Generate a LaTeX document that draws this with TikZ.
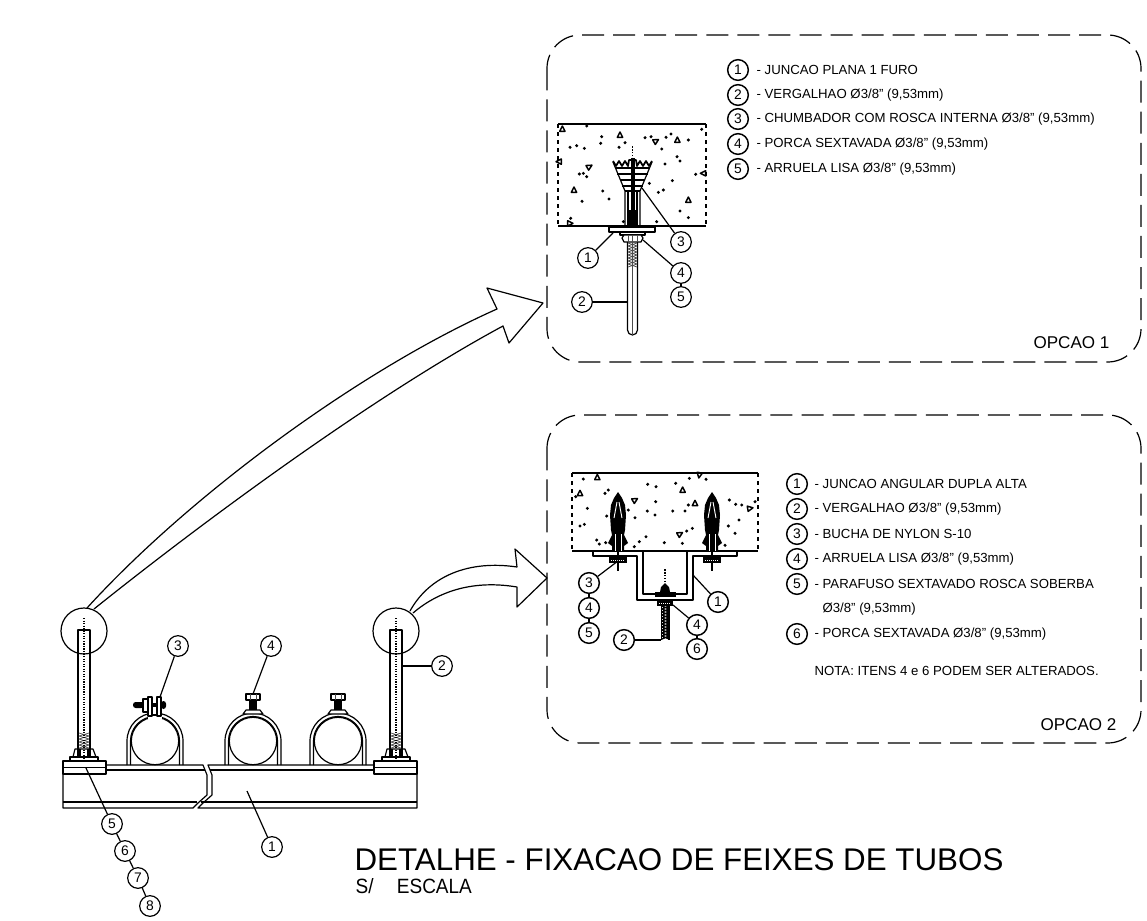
\documentclass[tikz,border=0pt]{standalone}
\usepackage{fontspec}
\setmainfont{Liberation Sans}
\newfontfamily\scalefont[FakeStretch=0.92]{Liberation Sans}
\tikzset{
  ln/.style={line width=0.9pt,line join=round},
  thinln/.style={line width=0.5pt,black!70},
  heavy/.style={line width=1.6pt},
  bubble/.style={circle,draw,line width=0.9pt,inner sep=0pt,minimum size=15.5pt,font=\fontsize{10.4pt}{12pt}\selectfont},
  bubblekey/.style={bubble,line width=1.1pt},
  legend/.style={anchor=west,inner sep=0pt,font=\fontsize{9.9pt}{12pt}\selectfont},
  optbox/.style={line width=0.9pt,rounded corners=25pt,dash pattern=on 16.5pt off 6.8pt},
  optlabel/.style={anchor=east,inner sep=0pt,font=\fontsize{12.8pt}{15pt}\selectfont}
}
\begin{document}
\begin{tikzpicture}[x=0.75pt,y=-0.75pt,ln]
  \useasboundingbox (0,0) rectangle (1147,921);

  % dashed frames
  \draw[optbox] (547,35) rectangle (1141,362);
  \draw[optbox] (547,415) rectangle (1141,743);
  \node[optlabel] (opt_1) at (1110,343) {OPCAO 1};
  \node[optlabel] (opt_2) at (1117,725) {OPCAO 2};

  % channel
  \draw (63,761) -- (63,808) -- (193,808) -- (198,803) -- (207,795) -- (207,775) -- (203,765) -- (106,765);
  \draw (63,802) -- (197,802);
  \draw (106,770) -- (205,770);
  \draw (417,761) -- (417,808) -- (198,808) -- (203,803) -- (212,795) -- (212,775) -- (208,765) -- (374,765);
  \draw (201,802) -- (417,802);
  \draw (210,770) -- (374,770);
  \foreach \px in {63,374} {
    \draw (\px,761) rectangle (\px+43,774);
    \draw (\px,767.5) -- (\px+43,767.5);
  }

  % studs
  \foreach \sx in {84,396} {
    \draw (\sx-6,757) -- (\sx-6,630) -- (\sx+6,630) -- (\sx+6,757);
    \foreach \ty in {733,736,...,746} \draw[thinln] (\sx-5,\ty) -- (\sx+5,\ty+3) (\sx+5,\ty) -- (\sx-5,\ty+3);
    \draw[line width=0.9pt,densely dotted] (\sx,618) -- (\sx,761);
    \draw (\sx-11,757) -- (\sx-9,749) -- (\sx+9,749) -- (\sx+12,757);
    \draw (\sx-4,749) -- (\sx-4,757) (\sx+4,749) -- (\sx+4,757);
    \draw (\sx-14,761) -- (\sx-14,757) -- (\sx+14,757) -- (\sx+14,761);
    \draw (\sx,631) circle (23);
  }

  % pipes and clamps
  \foreach \cx in {155,253,338} {
    \draw (\cx,741) circle (23.7);
    \draw (\cx-28,765) -- (\cx-28,741) arc[start angle=180,end angle=360,radius=28] -- (\cx+28,765);
    \draw (\cx-24.5,765) -- (\cx-24.5,741) arc[start angle=180,end angle=360,radius=24.5] -- (\cx+24.5,765);
  }
  \foreach \cx in {253,338} {
    \draw[fill=white] (\cx-10,714) -- (\cx-7,710) -- (\cx+7,710) -- (\cx+10,714) -- cycle;
    \fill (\cx-4,700) rectangle (\cx+4,710);
    \draw[fill=white] (\cx-7,694) rectangle (\cx+7,700);
    \draw[thinln] (\cx-3,694) -- (\cx-3,700) (\cx+3,694) -- (\cx+3,700);
  }
  \draw[fill=white,draw=white] (149,700) rectangle (161,719);
  \draw[fill=white] (148,697) rectangle (152,716);
  \draw[fill=white] (157,697) rectangle (161,716);
  \draw (152,715) -- (157,715);
  \fill[rounded corners=2pt] (133,702) rectangle (144,708);
  \draw[fill=white] (143,699) rectangle (148,712);
  \fill (152,703) rectangle (157,707);
  \fill[rounded corners=2pt] (161,701) rectangle (166,709);

  % callouts on the bundle
  \node[bubble] (n_3) at (178,646) {3};
  \node[bubble] (n_4) at (271,646) {4};
  \node[bubble] (n_2) at (442,666) {2};
  \node[bubble] (n_1) at (272,847) {1};
  \node[bubble] (n_5) at (112,824) {5};
  \node[bubble] (n_6) at (125,851) {6};
  \node[bubble] (n_7) at (138,878) {7};
  \node[bubble] (n_8) at (150,906) {8};
  \coordinate (to_3) at (160,697);
  \coordinate (to_4) at (253,694);
  \coordinate (to_2) at (402,666);
  \coordinate (to_1) at (247,791);
  \coordinate (to_5) at (86,768);
  \draw (n_3) -- (to_3);
  \draw (n_4) -- (to_4);
  \draw (n_2) -- (to_2);
  \draw (n_1) -- (to_1);
  \draw (to_5) -- (n_5) -- (n_6) -- (n_7) -- (n_8);

  % arrows
  \draw (87,608) .. controls (190,495) and (360,370) .. (497,309) -- (487,288) -- (543,303) -- (509,343) -- (503,326)
    .. controls (375,395) and (205,520) .. (94,609);
  \draw (410,611) .. controls (430,575) and (470,560) .. (517,567) -- (515,549) -- (547,578) -- (517,607) -- (517,587)
    .. controls (475,580) and (440,590) .. (413,613);

  % opcao 1, concrete
  \draw[heavy] (558,124) -- (706,124);
  \draw[line width=1.2pt] (558,226) -- (706,226);
  \draw[dashed] (558,124) -- (558,226) (706,124) -- (706,226);
  \begin{scope}[shift={(540,30)},x=0.25pt,y=-0.25pt]
    \foreach \a/\b in {185/320,140/288,90/352,110/347,133/355,182/340,237/352,255/338,315/323,333/320,378/322,393/312,445/330,365/357,411/380,420/393,375/402,467/433,397/452,328/460,355/487,370/480,188/483,207/507,126/514,118/432,130/430,140/440,420/543,445/563,350/575,250/575,92/565,485/298}
      \fill (\a,\b) circle (5);
    \foreach \a/\b/\r in {240/315/0,67/297/0,348/333/-60,412/330/0,148/410/-60,102/480/0,445/510/0,90/580/-90,490/430/90,57/395/90}
      \draw[line width=1.1pt,shift={(\a,\b)},rotate=\r] (-8,7) -- (8,7) -- (0,-9) -- cycle;
  \end{scope}

  % opcao 1, anchor
  \draw (613,162) -- (625,191) -- (625,226) (652,162) -- (640,191) -- (640,226);
  \draw[line width=1.3pt] (613,161) -- (616,166) -- (619,161) -- (622,166) -- (625,161) -- (628,166) -- (629,160) -- (636,160) -- (637,166) -- (640,161) -- (643,166) -- (646,161) -- (649,166) -- (652,161);
  \draw[line width=1.1pt] (615,168) -- (650,168) (617,174) -- (648,174) (620,180) -- (645,180) (622,186) -- (643,186);
  \draw (628,191) -- (628,226) (637,191) -- (637,226);
  \draw (625,191) -- (640,191);
  \draw[line width=1.2pt,densely dotted] (632.5,146) -- (632.5,158);
  \fill (630.5,158) rectangle (634.5,210);
  \fill (627,210) rectangle (637,226);
  \draw[fill=white] (609,227) rectangle (655,232);
  \draw[fill=white] (620,232) rectangle (645,235);
  \draw[fill=white] (624,235) -- (622,238) -- (624,242) -- (641,242) -- (643,238) -- (641,235) -- cycle;
  \draw[thinln] (628,235) -- (628,242) (632.5,235) -- (632.5,242) (637,235) -- (637,242);
  \draw (627.5,242) -- (627.5,330) arc[start angle=180,end angle=0,radius=5] -- (637.5,242);
  \draw[thinln] (632.5,242) -- (632.5,335);
  \foreach \ty in {243,246,...,264} \draw[thinln] (628,\ty) -- (637,\ty+3) (637,\ty) -- (628,\ty+3);
  \node[bubble] (a_3) at (681,242) {3};
  \node[bubble] (a_1) at (588,258) {1};
  \node[bubble] (a_4) at (681,273) {4};
  \node[bubble] (a_5) at (681,297) {5};
  \node[bubble] (a_2) at (582,302) {2};
  \coordinate (at_3) at (642,188);
  \coordinate (at_1) at (613,233);
  \coordinate (at_4) at (643,240);
  \coordinate (at_2) at (627,302);
  \draw (a_3) -- (at_3);
  \draw (a_1) -- (at_1);
  \draw (a_4) -- (at_4);
  \draw (a_4) -- (a_5);
  \draw (a_2) -- (at_2);

  % opcao 1, list
  \foreach \k/\y/\txt in {1/70/{- JUNCAO PLANA 1 FURO},2/95/{- VERGALHAO Ø3/8" (9,53mm)},3/119/{- CHUMBADOR COM ROSCA INTERNA Ø3/8" (9,53mm)},4/144/{- PORCA SEXTAVADA Ø3/8" (9,53mm)},5/169/{- ARRUELA LISA Ø3/8" (9,53mm)}} {
    \node[bubblekey] (k_\k) at (738,\y) {\k};
    \node[legend] (t_\k) at (756,\y) {\txt};
  }

  % opcao 2, concrete
  \draw[heavy] (572,473) -- (758,473);
  \draw[line width=1.2pt] (572,551) -- (758,551);
  \draw[dashed] (572,473) -- (572,551) (758,473) -- (758,551);
  \begin{scope}[shift={(540,440)},x=0.25pt,y=-0.25pt]
    \foreach \a/\b in {130/117,205/150,195/160,323/133,348/140,407/130,448/115,498/118,107/170,142/205,133/253,120/258,200/228,265/210,285/233,322/213,345/225,347/185,398/213,435/213,445/195,568/180,587/193,605/195,597/240,565/258,585/280,457/265,440/273,170/300,178/312,197/308,283/320,298/305,318/290,373/308,427/310,555/316,645/185}
      \fill (\a,\b) circle (5);
    \foreach \a/\b/\r in {172/112/0,120/160/0,428/150/0,285/180/-60,465/190/0,630/205/-80,420/282/-60,478/105/170}
      \draw[line width=1.1pt,shift={(\a,\b)},rotate=\r] (-8,7) -- (8,7) -- (0,-9) -- cycle;
  \end{scope}

  % opcao 2, angle bracket
  \draw (593,551) -- (593,556) -- (637,556) -- (637,600) -- (693,600) -- (693,556) -- (737,556) -- (737,551);
  \draw (643,551) -- (643,594) -- (687,594) -- (687,551);

  % opcao 2, anchors
  \foreach \ax in {618,712} {
    \fill (\ax,492) -- (\ax+4,498) -- (\ax+7,505) -- (\ax+8,515) -- (\ax+7,530) -- (\ax+6,535) -- (\ax+10,543) -- (\ax+6,546) -- (\ax+6,551)
      -- (\ax-6,551) -- (\ax-6,546) -- (\ax-10,543) -- (\ax-6,535) -- (\ax-7,530) -- (\ax-8,515) -- (\ax-7,505) -- (\ax-4,498) -- cycle;
    \draw[white,line width=0.7pt] (\ax-1,502) -- (\ax-4,518) (\ax+1,502) -- (\ax+4,518);
    \draw[white,line width=0.7pt] (\ax-3,534) -- (\ax-3,551) (\ax+3,534) -- (\ax+3,551);
    \draw (\ax,551) -- (\ax,571);
    \fill (\ax-9,557) rectangle (\ax+9,563);
    \draw[white,line width=0.5pt,densely dotted] (\ax-7,560) -- (\ax+7,560);
  }

  % opcao 2, threaded rod
  \draw[line width=1.2pt,densely dotted] (665,569) -- (665,585);
  \fill (665,583) -- (669,587) -- (670,592) -- (660,592) -- (661,587) -- cycle;
  \fill (655,592) rectangle (676,596);
  \draw (655,596) -- (676,596);
  \fill (657,601) rectangle (673,606);
  \draw[white,line width=0.5pt,densely dotted] (659,603.5) -- (671,603.5);
  \draw (661.5,606) -- (661.5,640) (669,606) -- (669,640);
  \foreach \ty in {606,609,...,636} \draw[line width=1pt] (662,\ty) -- (669,\ty+3) (669,\ty) -- (662,\ty+3);
  \node[bubblekey] (b_3) at (589,583) {3};
  \node[bubblekey] (b_4) at (589,608) {4};
  \node[bubblekey] (b_5) at (589,633) {5};
  \node[bubblekey] (b_1) at (718,602) {1};
  \node[bubblekey] (b_2) at (624,640) {2};
  \node[bubblekey] (b_6) at (697,625) {4};
  \node[bubblekey] (b_7) at (697,649) {6};
  \coordinate (bt_3) at (618,561);
  \coordinate (bt_1) at (693,575);
  \coordinate (bt_2) at (661,640);
  \coordinate (bt_4) at (673,605);
  \draw (b_3) -- (bt_3);
  \draw (b_3) -- (b_4) -- (b_5);
  \draw (b_1) -- (bt_1);
  \draw (b_2) -- (bt_2);
  \draw (b_6) -- (bt_4);
  \draw (b_6) -- (b_7);

  % opcao 2, list
  \foreach \k/\y/\txt in {1/484/{- JUNCAO ANGULAR DUPLA ALTA},2/509/{- VERGALHAO Ø3/8" (9,53mm)},3/534/{- BUCHA DE NYLON S-10},4/559/{- ARRUELA LISA Ø3/8" (9,53mm)},5/584/{- PARAFUSO SEXTAVADO ROSCA SOBERBA},6/634/{- PORCA SEXTAVADA Ø3/8" (9,53mm)}} {
    \node[bubblekey] (m_\k) at (797,\y) {\k};
    \node[legend] (u_\k) at (814,\y) {\txt};
  }
  \node[legend] (u_5b) at (822,609) {Ø3/8" (9,53mm)};
  \node[legend] (nota) at (814,671) {NOTA: ITENS 4 e 6 PODEM SER ALTERADOS.};

  % title
  \node[anchor=base west,inner sep=0pt,font=\fontsize{23.5pt}{28pt}\selectfont] (title) at (354,870) {DETALHE - FIXACAO DE FEIXES DE TUBOS};
  \node[anchor=base west,inner sep=0pt,font=\scalefont\fontsize{15.5pt}{18pt}\selectfont] (scale) at (355,893) {S/\hspace{17.5pt}ESCALA};
\end{tikzpicture}
\end{document}
